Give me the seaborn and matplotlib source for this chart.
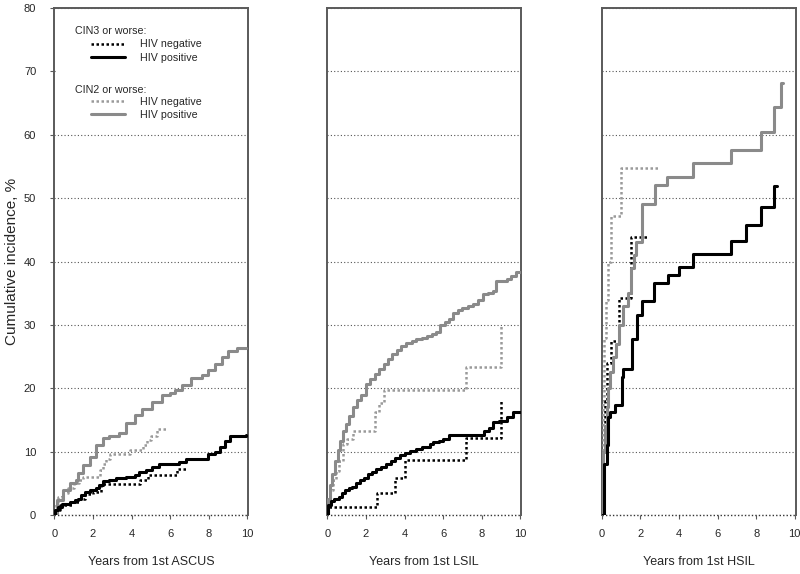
import matplotlib
matplotlib.use("Agg")
import matplotlib.pyplot as plt
import seaborn as sns
import pandas as pd
from matplotlib.lines import Line2D
from matplotlib.patches import Rectangle

# ---------------- data ----------------
panel_labels = ["Years from 1st ASCUS", "Years from 1st LSIL", "Years from 1st HSIL"]
y_ticks = [0, 10, 20, 30, 40, 50, 60, 70, 80]
x_ticks = [0, 2, 4, 6, 8, 10]

# ASCUS
ascus_cin2_pos_t = [0, 0.12, 0.46, 0.8, 1.15, 1.23, 1.49, 1.83, 2.17, 2.5, 2.85, 3.37, 3.7, 4.2, 4.56,
                    5.08, 5.6, 6.0, 6.27, 6.6, 7.1, 7.64, 7.98, 8.32, 8.67, 9.0, 9.44, 9.95]
ascus_cin2_pos_v = [0, 2.4, 3.9, 5.0, 5.5, 6.6, 7.9, 9.2, 11.0, 12.1, 12.4, 12.9, 14.5, 15.8, 16.8,
                    17.9, 18.9, 19.2, 19.7, 20.5, 21.6, 22.1, 22.9, 23.9, 25.0, 25.8, 26.3, 26.3]
ascus_cin2_neg_t = [0, 0.09, 0.2, 0.4, 0.7, 1.0, 1.3, 1.5, 2.35, 2.5, 2.7, 2.9, 3.9, 4.6, 4.8, 5.0, 5.3, 5.8]
ascus_cin2_neg_v = [0, 2.1, 2.9, 3.4, 4.2, 5.0, 5.5, 6.0, 7.1, 8.0, 8.9, 9.6, 10.2, 11.0, 11.8, 12.5, 13.5, 13.5]
ascus_cin3_pos_t = [0, 0.03, 0.2, 0.38, 0.8, 1.06, 1.23, 1.4, 1.57, 1.83, 2.17, 2.34, 2.5, 2.85, 3.2, 3.7,
                    4.2, 4.38, 4.73, 5.08, 5.42, 6.44, 6.8, 7.13, 7.98, 8.32, 8.58, 8.84, 9.1, 9.35, 9.95]
ascus_cin3_pos_v = [0, 0.8, 1.3, 1.8, 2.1, 2.4, 2.6, 3.2, 3.7, 3.9, 4.2, 4.7, 5.3, 5.5, 5.8, 6.0,
                    6.3, 6.8, 7.1, 7.6, 8.1, 8.4, 8.8, 8.9, 9.7, 10.0, 10.8, 11.6, 12.4, 12.5, 12.6]
ascus_cin3_neg_t = [0, 0.08, 0.3, 0.9, 1.3, 1.6, 2.0, 2.4, 4.45, 4.85, 6.35, 6.8]
ascus_cin3_neg_v = [0, 0.8, 1.5, 2.0, 2.5, 3.3, 3.6, 4.9, 5.5, 6.3, 7.3, 7.3]

# LSIL
lsil_cin2_pos_t = [0, 0.05, 0.14, 0.25, 0.4, 0.55, 0.65, 0.8, 0.95, 1.15, 1.35, 1.55, 1.75, 2.0, 2.2, 2.45,
                   2.7, 2.95, 3.15, 3.35, 3.6, 3.8, 4.1, 4.4, 4.6, 4.9, 5.15, 5.4, 5.65, 5.85, 6.1, 6.3,
                   6.5, 6.75, 7.0, 7.3, 7.55, 7.8, 8.07, 8.3, 8.6, 8.75, 9.3, 9.5, 9.75, 10.0]
lsil_cin2_pos_v = [0, 2.5, 4.8, 6.5, 8.5, 10.3, 11.7, 13.2, 14.3, 15.7, 17.0, 18.2, 19.0, 20.6, 21.4, 22.2,
                   23.1, 23.8, 24.6, 25.4, 26.1, 26.6, 27.2, 27.4, 27.7, 28.0, 28.3, 28.6, 28.9, 30.0, 30.5, 31.0,
                   31.9, 32.3, 32.6, 32.9, 33.3, 34.0, 34.8, 35.0, 35.4, 36.9, 37.3, 37.7, 38.4, 38.4]
lsil_cin2_neg_t = [0, 0.05, 0.14, 0.3, 0.45, 0.6, 0.83, 1.0, 1.35, 2.45, 2.7, 2.95, 7.2, 9.0]
lsil_cin2_neg_v = [0, 2.5, 4.0, 5.5, 7.0, 8.5, 11.2, 12.0, 13.3, 16.2, 17.7, 19.8, 23.4, 30.0]
lsil_cin3_pos_t = [0, 0.03, 0.2, 0.35, 0.6, 0.75, 0.9, 1.1, 1.3, 1.5, 1.7, 1.9, 2.1, 2.3, 2.5, 2.8, 3.05,
                   3.3, 3.5, 3.75, 4.0, 4.3, 4.6, 4.9, 5.3, 5.5, 5.8, 6.0, 6.3, 7.9, 8.1, 8.4, 8.6, 8.9,
                   9.3, 9.6, 10.0]
lsil_cin3_pos_v = [0, 1.5, 2.2, 2.6, 2.8, 3.5, 3.9, 4.2, 4.4, 5.0, 5.5, 5.9, 6.4, 6.8, 7.2, 7.6, 8.0,
                   8.5, 9.0, 9.4, 9.8, 10.1, 10.4, 10.7, 11.2, 11.5, 11.6, 12.0, 12.6, 12.6, 13.3, 13.8, 14.6, 14.8,
                   15.4, 16.2, 16.3]
lsil_cin3_neg_t = [0, 0.05, 2.6, 3.5, 4.0, 7.2, 9.0]
lsil_cin3_neg_v = [0, 1.3, 3.4, 5.9, 8.6, 12.2, 18.0]

# HSIL
hsil_cin2_pos_t = [0, 0.03, 0.08, 0.15, 0.25, 0.35, 0.45, 0.6, 0.75, 0.9, 1.1, 1.35, 1.5, 1.65, 1.8, 2.1,
                   2.75, 3.4, 4.75, 6.7, 8.25, 8.95, 9.3, 9.4]
hsil_cin2_pos_v = [0, 5, 10, 14, 17, 20, 22.5, 25, 27, 30, 33, 35, 39, 41, 43, 49,
                   52, 53.3, 55.5, 57.6, 60.5, 64.3, 68.1, 68.1]
hsil_cin2_neg_t = [0, 0.03, 0.06, 0.1, 0.2, 0.35, 0.5, 1.0, 2.95]
hsil_cin2_neg_v = [0, 10, 18, 28, 34, 40, 47.2, 54.7, 54.7]
hsil_cin3_pos_t = [0, 0.1, 0.14, 0.26, 0.35, 0.45, 0.69, 1.05, 1.1, 1.56, 1.82, 2.08, 2.73, 3.42, 4.0,
                   4.74, 6.68, 7.47, 8.25, 8.95, 9.1]
hsil_cin3_pos_v = [0, 5, 8, 11.1, 15.4, 16.2, 17.4, 21.7, 23.1, 27.8, 31.5, 33.8, 36.6, 37.8, 39.2,
                   41.2, 43.3, 45.7, 48.6, 51.9, 51.9]
hsil_cin3_neg_t = [0, 0.05, 0.15, 0.3, 0.5, 0.9, 1.5, 2.35]
hsil_cin3_neg_v = [0, 10, 18, 24, 27.5, 34.3, 43.9, 43.9]

panels = [
    dict(cin2_pos=(ascus_cin2_pos_t, ascus_cin2_pos_v), cin2_neg=(ascus_cin2_neg_t, ascus_cin2_neg_v),
         cin3_pos=(ascus_cin3_pos_t, ascus_cin3_pos_v), cin3_neg=(ascus_cin3_neg_t, ascus_cin3_neg_v)),
    dict(cin2_pos=(lsil_cin2_pos_t, lsil_cin2_pos_v), cin2_neg=(lsil_cin2_neg_t, lsil_cin2_neg_v),
         cin3_pos=(lsil_cin3_pos_t, lsil_cin3_pos_v), cin3_neg=(lsil_cin3_neg_t, lsil_cin3_neg_v)),
    dict(cin2_pos=(hsil_cin2_pos_t, hsil_cin2_pos_v), cin2_neg=(hsil_cin2_neg_t, hsil_cin2_neg_v),
         cin3_pos=(hsil_cin3_pos_t, hsil_cin3_pos_v), cin3_neg=(hsil_cin3_neg_t, hsil_cin3_neg_v)),
]

# ---------------- styling ----------------
sns.set_style("white")
plt.rcParams["font.family"] = ["Liberation Sans", "DejaVu Sans"]

GRAY = "#8a8a8a"
GRAY_DOT = "#9a9a9a"
SPINE = "#5a5a5a"
styles = {
    "cin2_neg": dict(color=GRAY_DOT, linewidth=1.8, linestyle=(0, (1, 1))),
    "cin3_neg": dict(color="black", linewidth=1.8, linestyle=(0, (1, 1))),
    "cin2_pos": dict(color=GRAY, linewidth=2.2, linestyle="-"),
    "cin3_pos": dict(color="black", linewidth=2.2, linestyle="-"),
}
order = ["cin2_neg", "cin3_neg", "cin2_pos", "cin3_pos"]

fig = plt.figure(figsize=(8.0, 5.74), dpi=100)
lefts_px = [54.3, 327.3, 601.7]
W_px = 194
bottom = (574 - 515) / 574
height = 507 / 574

axes = []
for i, (lp, pdata) in enumerate(zip(lefts_px, panels)):
    ax = fig.add_axes([lp / 800, bottom, W_px / 800, height])
    axes.append(ax)
    for k in order:
        t, v = pdata[k]
        df = pd.DataFrame({"t": t, "v": v})
        sns.lineplot(data=df, x="t", y="v", ax=ax, estimator=None, sort=False,
                     drawstyle="steps-post", zorder=3, **styles[k])
    ax.set_xlim(0, 10.05)
    ax.set_ylim(0, 80)
    ax.set_xticks(x_ticks)
    ax.set_yticks(y_ticks)
    ax.grid(axis="y", linestyle=(0, (1, 2)), color="#555555", linewidth=0.8)
    ax.grid(axis="x", visible=False)
    ax.set_axisbelow(True)
    for s in ["left", "right", "top"]:
        ax.spines[s].set_color(SPINE)
        ax.spines[s].set_linewidth(1.4)
    ax.spines["bottom"].set_visible(False)
    ax.axhline(0, color="#333333", linestyle=(0, (1, 1.5)), linewidth=1.0, clip_on=False, zorder=2)
    ax.tick_params(axis="x", direction="out", length=3, width=0.8, color=SPINE,
                   labelsize=8, pad=7, bottom=True)
    ax.set_xlabel(panel_labels[i], fontsize=9)
    ax.xaxis.set_label_coords(0.5, -0.08)
    if i == 0:
        ax.tick_params(axis="y", direction="out", length=3, width=0.8, color=SPINE,
                       labelsize=8, pad=10, left=True)
        ax.set_ylabel("Cumulative incidence, %", fontsize=11)
        ax.yaxis.set_label_coords(-0.18, 0.5)
    else:
        ax.tick_params(axis="y", left=False, labelleft=False)
        ax.set_ylabel("")

# legend in first panel
ax = axes[0]
ax.add_patch(Rectangle((0.01, 0.765), 0.98, 0.225, transform=ax.transAxes,
                       facecolor="white", edgecolor="none", zorder=2))
fs = 7.7
ax.text(0.105, 0.955, "CIN3 or worse:", transform=ax.transAxes, fontsize=fs, va="center", ha="left", zorder=4)
ax.text(0.105, 0.838, "CIN2 or worse:", transform=ax.transAxes, fontsize=fs, va="center", ha="left", zorder=4)
h_cin3 = [Line2D([], [], **styles["cin3_neg"]), Line2D([], [], **styles["cin3_pos"])]
h_cin2 = [Line2D([], [], **styles["cin2_neg"]), Line2D([], [], **styles["cin2_pos"])]
labs = ["HIV negative", "HIV positive"]
leg1 = ax.legend(h_cin3, labs, loc="upper left", bbox_to_anchor=(0.19, 0.938), frameon=False,
                 fontsize=fs, handlelength=3.2, handletextpad=1.4, borderpad=0, borderaxespad=0,
                 labelspacing=0.3)
leg1.set_zorder(4)
ax.add_artist(leg1)
leg2 = ax.legend(h_cin2, labs, loc="upper left", bbox_to_anchor=(0.19, 0.825), frameon=False,
                 fontsize=fs, handlelength=3.2, handletextpad=1.4, borderpad=0, borderaxespad=0,
                 labelspacing=0.3)
leg2.set_zorder(4)

fig.savefig("out.png", dpi=100, facecolor="white")
